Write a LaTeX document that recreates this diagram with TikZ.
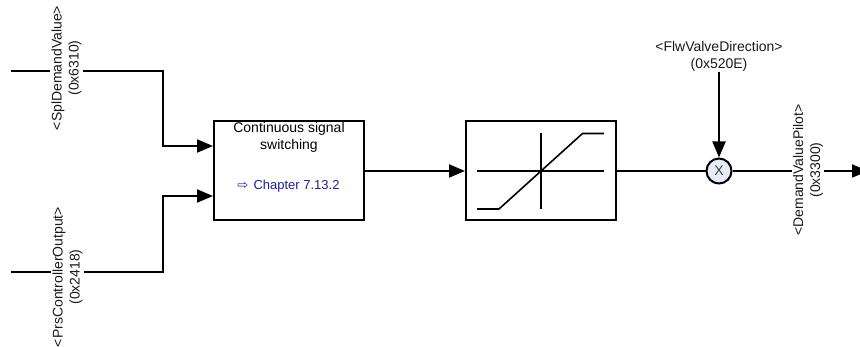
\documentclass[tikz,border=0pt]{standalone}
\usepackage{fontspec}
\setmainfont{Liberation Sans}
\newfontfamily\symfont{DejaVu Sans}
\usetikzlibrary{arrows.meta}
\definecolor{chap}{RGB}{30,30,150}
\definecolor{sumfill}{RGB}{230,236,247}
\tikzset{
  x=1pt,y=-1pt,
  lab/.style={font=\fontsize{14}{17}\selectfont,align=center,inner sep=1pt,text=black!90},
  block/.style={draw,line width=2pt,minimum width=150pt,minimum height=99pt,inner sep=0pt},
  wire/.style={line width=2pt,line join=miter},
  sig/.style={wire,-{Triangle[length=16pt,width=13pt]}},
  graphline/.style={line width=1.6pt}
}
\begin{document}
\begin{tikzpicture}
\useasboundingbox (0,0) rectangle (860,347);
\clip (0,0) rectangle (860,347);
\node[block] (sw) at (289,171) {};
\node[block] (sat) at (541,171) {};
\node[lab,text=black] (swt) at (289,137) {Continuous signal\\switching};
\node[lab,text=chap,font=\fontsize{13}{16}\selectfont] (swc) at (288.5,186) {{\symfont\fontsize{13}{16}\selectfont ⇨}\hspace{1.5pt} Chapter 7.13.2};
\node[draw,circle,line width=2pt,fill=sumfill,minimum size=25pt,inner sep=0pt,font=\fontsize{14}{16}\selectfont,text=black!75] (mul) at (719,171) {X};
\node[lab,rotate=90] (l1) at (66.5,68) {<SplDemandValue>\\(0x6310)};
\node[lab,rotate=90] (l2) at (67.5,277) {<PrsControllerOutput>\\(0x2418)};
\node[lab,rotate=90] (l3) at (808,170) {<DemandValuePilot>\\(0x3300)};
\node[lab] (l4) at (719,56) {<FlwValveDirection>\\(0x520E)};
\coordinate (s1) at (11,71);
\coordinate (s2) at (11,272);
\coordinate (e1) at (163,146);
\coordinate (e2) at (163,196);
\coordinate (endp) at (868,171);
\draw[wire] (s1) -- (l1.north |- s1);
\draw[sig] (l1.south |- s1) -| (e1) -- (sw.west |- e1);
\draw[wire] (s2) -- (l2.north |- s2);
\draw[sig] (l2.south |- s2) -| (e2) -- (sw.west |- e2);
\draw[sig] (sw) -- (sat);
\draw[wire] (sat) -- (mul);
\draw[wire] (mul) -- (l3.north |- mul);
\draw[sig] (l3.south |- mul) -- (endp);
\draw[sig] (l4.south) -- (mul);
\draw[graphline] (477,171) -- (604,171);
\draw[graphline] (541,133) -- (541,209);
\draw[graphline] (477,209) -- (499,209) -- (582.5,133.5) -- (604,133.5);
\end{tikzpicture}
\end{document}
